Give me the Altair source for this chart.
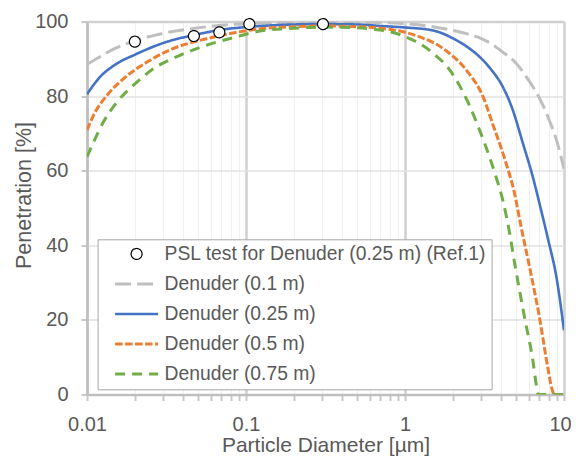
import altair as alt
import pandas as pd

# ---------------- data ----------------
SERIES = ["PSL test for Denuder (0.25 m) (Ref.1)", "Denuder (0.1 m)",
          "Denuder (0.25 m)", "Denuder (0.5 m)", "Denuder (0.75 m)"]

PSL_D = [0.02, 0.047, 0.068, 0.105, 0.305]
PSL_P = [94.6, 96.1, 97.1, 99.3, 99.3]

D_01 = [0.01, 0.012, 0.015, 0.02, 0.03, 0.05, 0.07, 0.1, 0.15, 0.2, 0.3, 0.5, 0.7,
        1.0, 1.5, 2.0, 2.5, 3.0, 3.5, 4.0, 5.0, 6.0, 7.0, 8.0, 9.0, 10.0]
P_01 = [88.5, 90.5, 92.8, 94.8, 96.8, 98.3, 99.0, 99.4, 99.7, 99.8, 99.9, 99.8, 99.7,
        99.4, 98.6, 97.6, 96.6, 95.5, 94.0, 92.2, 88.8, 84.2, 79.5, 74.0, 68.0, 60.5]

D_025 = [0.01, 0.012, 0.015, 0.02, 0.03, 0.05, 0.07, 0.1, 0.15, 0.2, 0.3, 0.5, 0.7,
         1.0, 1.5, 2.0, 2.5, 3.0, 3.5, 4.0, 4.76, 5.5, 6.37, 7.18, 7.92, 9.0, 10.0]
P_025 = [80.5, 85.0, 88.4, 91.1, 94.2, 96.6, 97.8, 98.5, 99.0, 99.2, 99.3, 99.2, 98.8,
         98.4, 97.6, 95.5, 93.0, 90.2, 87.0, 83.5, 76.3, 67.5, 58.3, 49.4, 41.8, 31.0, 17.2]

D_05 = [0.01, 0.011, 0.0134, 0.017, 0.024, 0.035, 0.052, 0.08, 0.12, 0.2, 0.3, 0.5, 0.7,
        1.14, 1.85, 2.48, 3.1, 3.56, 4.25, 4.88, 5.37, 6.07, 7.0, 7.9, 8.4, 8.7, 10.0]
P_05 = [70.9, 74.9, 80.3, 84.7, 89.2, 92.8, 95.0, 96.8, 98.0, 98.6, 98.8, 98.6, 98.2,
        96.4, 91.9, 86.5, 79.8, 72.5, 63.0, 54.0, 45.0, 34.2, 20.8, 7.3, 1.5, 0.0, 0.0]

D_075 = [0.01, 0.011, 0.0127, 0.0155, 0.0197, 0.0263, 0.0387, 0.057, 0.084, 0.118, 0.2,
         0.3, 0.5, 0.7, 0.94, 1.46, 1.95, 2.48, 3.0, 3.4, 3.74, 4.12, 4.54, 4.88, 5.64,
         6.37, 6.7, 6.9, 10.0]
P_075 = [63.7, 67.7, 73.1, 78.5, 83.0, 87.4, 91.0, 93.7, 95.7, 97.3, 98.2,
         98.5, 98.3, 97.7, 96.4, 91.9, 86.5, 78.5, 70.0, 63.7, 58.3, 52.1, 43.5, 35.5, 20.8,
         9.1, 2.5, 0.0, 0.0]

X_TICKS = [0.01, 0.02, 0.03, 0.04, 0.05, 0.06, 0.07, 0.08, 0.09,
           0.1, 0.2, 0.3, 0.4, 0.5, 0.6, 0.7, 0.8, 0.9,
           1, 2, 3, 4, 5, 6, 7, 8, 9, 10]
Y_TICKS = [0, 20, 40, 60, 80, 100]

# ---------------- styles ----------------
COLORS = ["#000000", "#BFBFBF", "#4472C4", "#ED7D31", "#70AD47"]
DASHES = [[1, 0], [16, 6], [1, 0], [7.5, 2.5], [10, 7]]
WIDTHS = [1.2, 3, 2.6, 3, 3]
SHAPES = ["circle", "stroke", "stroke", "stroke", "stroke"]
SIZES = [120, 1849, 1849, 1849, 1849]

FONT = "Liberation Sans"
TXT = "#595959"

rows = []
for name, ds, ps in [(SERIES[1], D_01, P_01), (SERIES[2], D_025, P_025),
                     (SERIES[3], D_05, P_05), (SERIES[4], D_075, P_075)]:
    for d, p in zip(ds, ps):
        rows.append({"d": d, "p": p, "series": name})
lines_df = pd.DataFrame(rows)
psl_df = pd.DataFrame({"d": PSL_D, "p": PSL_P, "series": SERIES[0]})

MAJOR_X = "indexof([0.01, 0.1, 1, 10], datum.value) >= 0"

x_enc = alt.X("d:Q", scale=alt.Scale(type="log", domain=[0.01, 10], nice=False),
              axis=alt.Axis(values=X_TICKS, title="Particle Diameter [µm]", format="~g",
                            labelExpr="indexof(['0.01','0.1','1','10'], datum.label) >= 0 ? datum.label : ''",
                            labelOffset={"condition": {"test": "datum.value == 10", "value": -4}, "value": 0},
                            grid=True,
                            gridColor={"condition": {"test": MAJOR_X, "value": "#D0D0D0"}, "value": "#F0F0F0"},
                            gridWidth={"condition": {"test": MAJOR_X, "value": 2.5}, "value": 1},
                            tickColor="#C8C8C8", tickWidth=2, tickSize=6,
                            domainColor="#BFBFBF", domainWidth=2.5,
                            labelFontSize=20, labelColor=TXT, labelFont=FONT, labelPadding=14,
                            labelFlush=False, labelOverlap=False,
                            titleFontSize=21, titleColor=TXT, titleFont=FONT,
                            titleFontWeight="normal", titleBaseline="alphabetic", titleY=57))

y_enc = alt.Y("p:Q", scale=alt.Scale(domain=[0, 100], nice=False),
              axis=alt.Axis(values=Y_TICKS, title="Penetration [%]",
                            grid=True,
                            gridColor={"condition": {"test": "datum.value == 100", "value": "#D0D0D0"}, "value": "#E2E2E2"},
                            gridWidth={"condition": {"test": "datum.value == 100", "value": 2.5}, "value": 1.5},
                            tickColor="#C8C8C8", tickWidth=2, tickSize=6,
                            domainColor="#BFBFBF", domainWidth=2.5,
                            labelFontSize=20, labelColor=TXT, labelFont=FONT, labelPadding=13,
                            titleFontSize=21.5, titleColor=TXT, titleFont=FONT,
                            titleFontWeight="normal", titleBaseline="alphabetic",
                            titleX=-56.5, titleY=173.5))

leg = alt.Legend(title=None)
color_enc = alt.Color("series:N", scale=alt.Scale(type="ordinal", domain=SERIES, range=COLORS), legend=leg)
dash_enc = alt.StrokeDash("series:N", scale=alt.Scale(type="ordinal", domain=SERIES, range=DASHES), legend=leg)
width_enc = alt.StrokeWidth("series:N", scale=alt.Scale(type="ordinal", domain=SERIES, range=WIDTHS), legend=leg)
shape_enc = alt.Shape("series:N", scale=alt.Scale(type="ordinal", domain=SERIES, range=SHAPES), legend=leg)
size_enc = alt.Size("series:N", scale=alt.Scale(type="ordinal", domain=SERIES, range=SIZES), legend=leg)

lines = alt.Chart(lines_df).mark_line(clip=True, interpolate="monotone").encode(
    x=x_enc, y=y_enc, color=color_enc, strokeDash=dash_enc, strokeWidth=width_enc,
    order="d:Q")

points = alt.Chart(psl_df).mark_point(filled=False, fill="white", opacity=1).encode(
    x=x_enc, y=y_enc, color=color_enc, shape=shape_enc, size=size_enc,
    strokeWidth=width_enc, strokeDash=dash_enc)

chart = alt.layer(lines, points).properties(
    width=477, height=373,
    autosize=alt.AutoSizeParams(type="none"),
    padding={"left": 79, "top": 13.5, "right": 7, "bottom": 61.5},
).configure_view(stroke=None).configure_legend(
    orient="none", legendX=10.6, legendY=217.8,
    padding=5, rowPadding=10, clipHeight=19.3,
    symbolOffset=11, labelOffset=5,
    labelFontSize=19.3, labelColor=TXT, labelFont=FONT, labelLimit=600,
    strokeColor="#A6A6A6", fillColor="white",
)

chart.save("out.html", embed_options={"renderer": "svg", "actions": False})
